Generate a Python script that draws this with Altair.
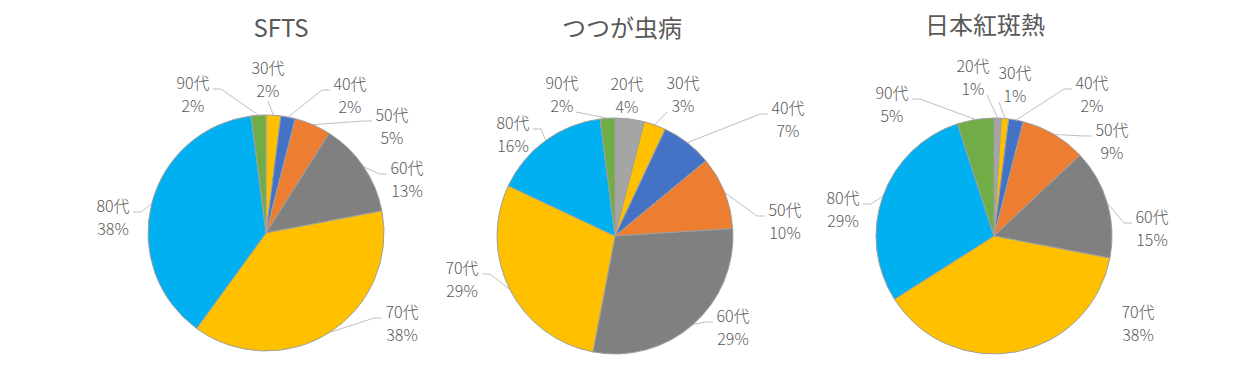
import math
import altair as alt
import pandas as pd

# ---------------- data ----------------
titles = ["SFTS", "つつが虫病", "日本紅斑熱"]

ages_sfts = ["30代", "40代", "50代", "60代", "70代", "80代", "90代"]
vals_sfts = [2, 2, 5, 13, 38, 38, 2]

ages_tsutsuga = ["20代", "30代", "40代", "50代", "60代", "70代", "80代", "90代"]
vals_tsutsuga = [4, 3, 7, 10, 29, 29, 16, 2]

ages_kohan = ["20代", "30代", "40代", "50代", "60代", "70代", "80代", "90代"]
vals_kohan = [1, 1, 2, 9, 15, 38, 29, 5]

age_domain = ["20代", "30代", "40代", "50代", "60代", "70代", "80代", "90代"]
age_colors = ["#A5A5A5", "#FFC000", "#4472C4", "#ED7D31", "#808080",
              "#FFC000", "#00B0F0", "#70AD47"]

# ---------------- layout ----------------
W, H = 1239, 377
R = 118
centers = [(266, 233), (615, 236), (994, 236)]
title_pos = [(281, 30), (622, 30), (985, 27)]

# label block offsets from pie centre, and side where leader attaches
label_off = [
    [(2, -153), (84, -137), (126, -106), (141, -53), (136, 91), (-153, -15), (-73, -138)],
    [(12, -140), (68, -141), (173, -116), (170, -14), (118, 92), (-153, 44), (-102, -101), (-53, -141)],
    [(-21, -158), (21, -151), (98, -141), (118, -94), (158, -7), (144, 88), (-151, -26), (-102, -131)],
]
label_side = [
    ["B", "L", "L", "L", "L", "R", "R"],
    ["N", "BL", "L", "L", "L", "R", "R", "BR"],
    ["BR", "BL", "L", "L", "L", "N", "R", "R"],
]

TEXT_COLOR = "#595959"
FONT = "Noto Sans CJK JP"

pies = [(ages_sfts, vals_sfts), (ages_tsutsuga, vals_tsutsuga), (ages_kohan, vals_kohan)]

color_scale = alt.Scale(domain=age_domain, range=age_colors)

layers = []
label_rows = []
leader_rows = []
for p, (ages, vals) in enumerate(pies):
    cx, cy = centers[p]
    df = pd.DataFrame({"age": ages, "value": vals, "idx": list(range(len(ages)))})
    arc = (
        alt.Chart(df)
        .mark_arc(outerRadius=R, stroke="#a0a0a0", strokeWidth=1)
        .encode(
            theta=alt.Theta("value:Q", stack=True),
            color=alt.Color("age:N", scale=color_scale, legend=None),
            order=alt.Order("idx:Q"),
            x=alt.value(cx),
            y=alt.value(cy),
        )
    )
    layers.append(arc)

    total = float(sum(vals))
    cum = 0.0
    for i, (a, v) in enumerate(zip(ages, vals)):
        mid = (cum + v / 2.0) / total * 2 * math.pi
        cum += v
        dx, dy = label_off[p][i]
        lx, ly = cx + dx, cy + dy
        pct = f"{round(v / total * 100)}%"
        label_rows.append({"x": lx, "y": ly - 11.5, "t": a})
        label_rows.append({"x": lx, "y": ly + 11.5, "t": pct})
        side = label_side[p][i]
        if side == "N":
            continue
        px, py = cx + R * math.sin(mid), cy - R * math.cos(mid)
        key = f"{p}-{i}"
        if side == "L":
            pts = [(lx - 20, ly - 6), (lx - 28, ly - 6), (px, py)]
        elif side == "R":
            pts = [(lx + 20, ly - 6), (lx + 28, ly - 6), (px, py)]
        elif side == "B":
            pts = [(lx, ly + 21), (px, py)]
        elif side == "BL":
            pts = [(lx - 16, ly + 17), (px, py)]
        else:  # BR
            pts = [(lx + 14, ly + 17), (px, py)]
        for k, (qx, qy) in enumerate(pts):
            leader_rows.append({"key": key, "o": k, "x": qx, "y": qy})

leaders = (
    alt.Chart(pd.DataFrame(leader_rows))
    .mark_line(color="#bfbfbf", strokeWidth=1)
    .encode(
        x=alt.X("x:Q", scale=None),
        y=alt.Y("y:Q", scale=None),
        detail="key:N",
        order="o:Q",
    )
)

labels = (
    alt.Chart(pd.DataFrame(label_rows))
    .mark_text(font=FONT, fontSize=16, fontWeight=300, color=TEXT_COLOR,
               align="center", baseline="middle")
    .encode(x=alt.X("x:Q", scale=None), y=alt.Y("y:Q", scale=None), text="t:N")
)

title_df = pd.DataFrame({"t": titles,
                         "x": [t[0] for t in title_pos],
                         "y": [t[1] for t in title_pos]})
title_layer = (
    alt.Chart(title_df)
    .mark_text(font=FONT, fontSize=24, color=TEXT_COLOR, align="center", baseline="middle")
    .encode(x=alt.X("x:Q", scale=None), y=alt.Y("y:Q", scale=None), text="t:N")
)

chart = (
    alt.layer(*layers, leaders, labels, title_layer)
    .resolve_scale(theta="independent")
    .properties(width=W, height=H, padding=0, autosize=alt.AutoSizeParams(type="none"),
                background="white")
    .configure_view(stroke=None)
)

chart.save("out.html", embed_options={"renderer": "svg", "actions": False})
